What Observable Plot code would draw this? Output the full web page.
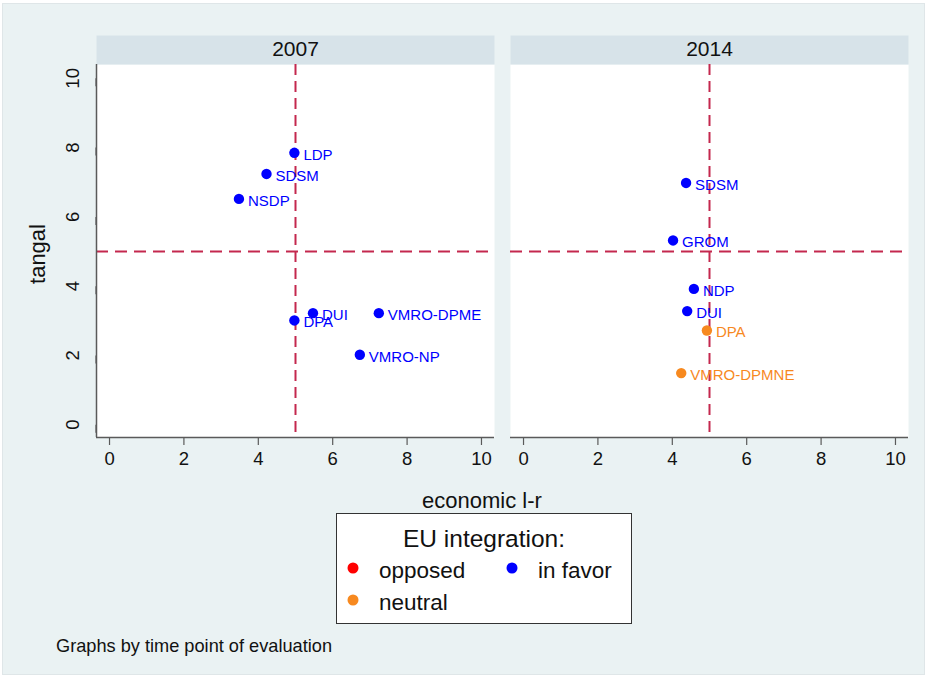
<!DOCTYPE html>
<html>
<head>
<meta charset="utf-8">
<script src="https://cdn.jsdelivr.net/npm/d3@7"></script>
<script src="https://cdn.jsdelivr.net/npm/@observablehq/plot@0.6"></script>
<style>
  body { margin: 0; background: #ffffff; }
  #fig { position: relative; width: 929px; height: 679px; overflow: hidden; font-family: "Liberation Sans", Arial, Helvetica, sans-serif; }
  #bg { position: absolute; left: 2px; top: 3px; width: 923px; height: 672px; background: #eaf2f3; border: 1px solid #dfe6e8; box-sizing: border-box; }
  #chart { position: absolute; left: 0; top: 0; }
  #overlay { position: absolute; left: 0; top: 0; pointer-events: none; }
</style>
</head>
<body>
<div id="fig">
  <div id="bg"></div>
  <div id="chart"></div>
  <svg id="overlay" width="929" height="679"></svg>
</div>
<script>
// ---- data ----
const years = ["2007", "2014"];

const parties2007 = ["LDP", "SDSM", "NSDP", "DUI", "DPA", "VMRO-DPME", "VMRO-NP"];
const econ2007    = [4.97, 4.22, 3.48, 5.47, 4.97, 7.24, 6.73];
const tangal2007  = [7.85, 7.24, 6.52, 3.22, 3.01, 3.22, 2.02];
const eu2007      = ["in favor", "in favor", "in favor", "in favor", "in favor", "in favor", "in favor"];

const parties2014 = ["SDSM", "GROM", "NDP", "DUI", "DPA", "VMRO-DPMNE"];
const econ2014    = [4.37, 4.02, 4.58, 4.40, 4.93, 4.24];
const tangal2014  = [6.98, 5.32, 3.92, 3.28, 2.72, 1.49];
const eu2014      = ["in favor", "in favor", "in favor", "in favor", "neutral", "neutral"];

const euCategories = ["opposed", "in favor", "neutral"];
const euColors     = ["#ff0000", "#0000ff", "#f7891f"];

const xTicks = [0, 2, 4, 6, 8, 10];
const yTicks = [0, 2, 4, 6, 8, 10];
const refX = [5];
const refY = [5];
const xDomain = [-0.35, 10.35];
const yDomain = [-0.37, 10.4];

const xTitle = "economic l-r";
const yTitle = "tangal";
const legendTitle = "EU integration:";
const caption = "Graphs by time point of evaluation";

// ---- table built from the arrays ----
const rows = [];
parties2007.forEach((p, i) => rows.push({year: years[0], party: p, econ: econ2007[i], tangal: tangal2007[i], eu: eu2007[i]}));
parties2014.forEach((p, i) => rows.push({year: years[1], party: p, econ: econ2014[i], tangal: tangal2014[i], eu: eu2014[i]}));

const FONT = "'Liberation Sans', Arial, Helvetica, sans-serif";
const dashColor = "#c4284e";
const axisColor = "#5a5a5a";

const chart = Plot.plot({
  width: 929,
  height: 470,
  marginTop: 64,
  marginBottom: 33,
  marginLeft: 96,
  marginRight: 21,
  style: {background: "transparent", fontFamily: FONT, overflow: "visible", color: "#111"},
  fx: {domain: years, paddingInner: 16 / 414, paddingOuter: 0, axis: null, label: null},
  x: {domain: xDomain},
  y: {domain: yDomain},
  color: {domain: euCategories, range: euColors},
  marks: [
    Plot.frame({fill: "white", stroke: "none"}),
    Plot.frame({fill: "#d7e3e9", stroke: "none", insetTop: -29, insetBottom: 373}),
    Plot.text(years, {fx: d => d, text: d => d, frameAnchor: "top", lineAnchor: "middle", dy: -15, fontSize: 21, fill: "#111"}),
    Plot.ruleX(refX, {stroke: dashColor, strokeWidth: 2, strokeDasharray: "11,6"}),
    Plot.ruleY(refY, {stroke: dashColor, strokeWidth: 2, strokeDasharray: "12,7"}),
    Plot.ruleY([yDomain[0]], {stroke: axisColor, strokeWidth: 1.5}),
    Plot.ruleX([xDomain[0]], {fx: () => years[0], stroke: axisColor, strokeWidth: 1.5}),
    Plot.axisX({ticks: xTicks, tickSize: 8, tickPadding: 6, fontSize: 18.5, label: null, stroke: axisColor, strokeWidth: 1.2, fill: "#111"}),
    Plot.axisY({ticks: yTicks, tickSize: 8, tickPadding: 15, rotate: -90, textAnchor: "middle", fontSize: 18.5, label: null, stroke: axisColor, strokeWidth: 1.2, fill: "#111"}),
    Plot.dot(rows, {x: "econ", y: "tangal", fx: "year", fill: "eu", r: 5.2, stroke: "none"}),
    Plot.text(rows, {x: "econ", y: "tangal", fx: "year", text: "party", fill: "eu", textAnchor: "start", dx: 9, dy: 2, fontSize: 15})
  ]
});
document.getElementById("chart").appendChild(chart);

// ---- titles, legend and caption ----
const ov = d3.select("#overlay").style("font-family", FONT);
ov.append("text").attr("x", 482).attr("y", 508).attr("text-anchor", "middle")
  .attr("font-size", 22).attr("fill", "#111").text(xTitle);
ov.append("text").attr("transform", "translate(45,254) rotate(-90)").attr("text-anchor", "middle")
  .attr("font-size", 22).attr("fill", "#111").text(yTitle);

const lg = ov.append("g");
lg.append("rect").attr("x", 336.5).attr("y", 513.5).attr("width", 295).attr("height", 110)
  .attr("fill", "white").attr("stroke", "#333").attr("stroke-width", 1);
lg.append("text").attr("x", 484).attr("y", 547).attr("text-anchor", "middle")
  .attr("font-size", 24.5).attr("fill", "#111").text(legendTitle);
euCategories.forEach((c, i) => {
  const col = i % 2, row = Math.floor(i / 2);
  const cx = 353 + col * 159, cy = 568 + row * 32;
  lg.append("circle").attr("cx", cx).attr("cy", cy).attr("r", 5.5).attr("fill", euColors[i]);
  lg.append("text").attr("x", cx + 26).attr("y", cy + 10).attr("font-size", 22.5).attr("fill", "#111").text(c);
});

ov.append("text").attr("x", 56).attr("y", 652).attr("font-size", 18.2).attr("fill", "#111").text(caption);
</script>
</body>
</html>
